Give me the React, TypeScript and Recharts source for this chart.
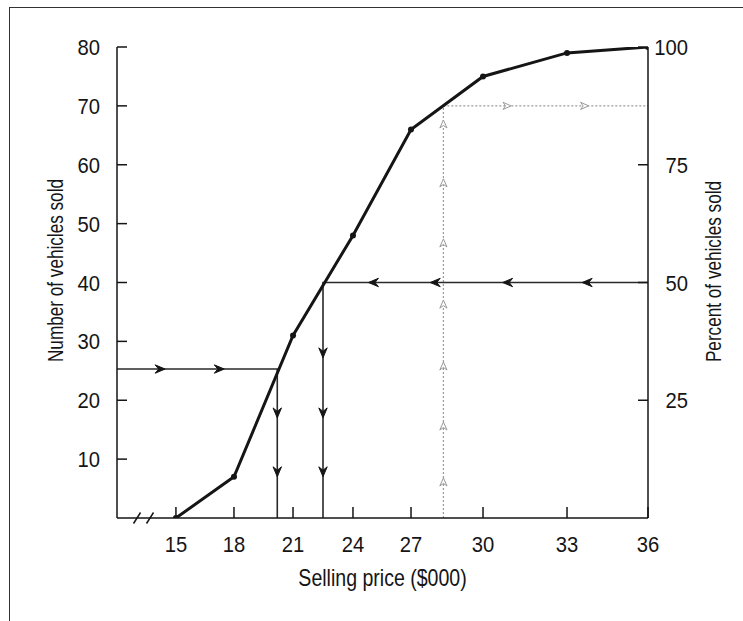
import { LineChart, Line, XAxis, YAxis, ReferenceDot } from 'recharts';

// selling price ($000) and cumulative number of vehicles sold
const prices = [15, 18, 21, 24, 27, 30, 33, 36];
const vehiclesSold = [0, 7, 31, 48, 66, 75, 79, 80];

const priceTicks = [15, 18, 21, 24, 27, 30, 33, 36];
const countTicks = [10, 20, 30, 40, 50, 60, 70, 80];
const percentTicks = [25, 50, 75, 100];

type GuidePoint = { price: number; n: number; arrow?: boolean };

// 25 vehicles -> about $20,200
const quartileGuide: GuidePoint[] = [
  { price: 12, n: 25.3 },
  { price: 14.45, n: 25.3, arrow: true },
  { price: 17.5, n: 25.3, arrow: true },
  { price: 20.2, n: 25.3 },
  { price: 20.2, n: 17, arrow: true },
  { price: 20.2, n: 7, arrow: true },
  { price: 20.2, n: 0 },
];

// 50% (40 vehicles) -> about $22,500
const medianGuide: GuidePoint[] = [
  { price: 36, n: 40 },
  { price: 33.56, n: 40, arrow: true },
  { price: 30.7, n: 40, arrow: true },
  { price: 27.8, n: 40, arrow: true },
  { price: 24.8, n: 40, arrow: true },
  { price: 22.5, n: 40 },
  { price: 22.5, n: 27.2, arrow: true },
  { price: 22.5, n: 17, arrow: true },
  { price: 22.5, n: 7, arrow: true },
  { price: 22.5, n: 0 },
];

// $28,350 -> 70 vehicles (87.5%)
const upperGuide: GuidePoint[] = [
  { price: 28.35, n: 0 },
  { price: 28.35, n: 6.8, arrow: true },
  { price: 28.35, n: 16.3, arrow: true },
  { price: 28.35, n: 26.5, arrow: true },
  { price: 28.35, n: 37, arrow: true },
  { price: 28.35, n: 47.4, arrow: true },
  { price: 28.35, n: 57.6, arrow: true },
  { price: 28.35, n: 67.6, arrow: true },
  { price: 28.35, n: 70 },
  { price: 31.0, n: 70, arrow: true },
  { price: 33.8, n: 70, arrow: true },
  { price: 36, n: 70 },
];

const curve = prices.map((price, i) => ({ price, n: vehiclesSold[i] }));

const INK = '#151515';
const GREY = '#9a9a9a';
const FONT = "'Liberation Sans', Arial, sans-serif";
const BREAK_AT = 13.35;

// the printed price axis is not evenly spaced; where each stop sits along it
const AXIS_STOPS = [12, 15, 18, 21, 24, 27, 30, 33, 36];
const AXIS_SHARE = [0, 0.111, 0.2203, 0.3315, 0.4444, 0.5537, 0.6893, 0.8475, 1];

function printedScale(): any {
  let dom: number[] = [12, 36];
  let rng: number[] = [0, 1];
  const s: any = (v: number) => {
    const last = AXIS_STOPS.length - 1;
    let i = 0;
    while (i < last - 1 && v > AXIS_STOPS[i + 1]) i++;
    const t = (v - AXIS_STOPS[i]) / (AXIS_STOPS[i + 1] - AXIS_STOPS[i]);
    const f = AXIS_SHARE[i] + t * (AXIS_SHARE[i + 1] - AXIS_SHARE[i]);
    return rng[0] + (rng[1] - rng[0]) * f;
  };
  s.domain = (d?: number[]) => {
    if (d === undefined) return dom;
    dom = d.slice();
    return s;
  };
  s.range = (r?: number[]) => {
    if (r === undefined) return rng;
    rng = r.slice();
    return s;
  };
  s.copy = () => printedScale().domain(dom).range(rng);
  s.ticks = () => priceTicks;
  return s;
}

const SOLID = 'M0,0 L-10,-4.2 L-6.5,0 L-10,4.2 Z';
const HOLLOW = 'M0,0 L-8,-3.6 L-5.5,0 L-8,3.6 Z';

function arrowDots(guide: GuidePoint[], hollow: boolean) {
  return (props: any) => {
    const { cx, cy, index } = props;
    const pt = guide[index];
    if (!pt || !pt.arrow || cx == null || cy == null) return <g key={`a${index}`} />;
    const prev = guide[index - 1];
    let angle = 0;
    if (pt.price !== prev.price) angle = pt.price > prev.price ? 0 : 180;
    else angle = pt.n > prev.n ? -90 : 90;
    return (
      <path
        key={`a${index}`}
        d={hollow ? HOLLOW : SOLID}
        transform={`translate(${cx},${cy}) rotate(${angle})`}
        fill={hollow ? '#fff' : INK}
        stroke={hollow ? GREY : INK}
        strokeWidth={1}
        strokeLinejoin="round"
      />
    );
  };
}

// condensed look: squeeze Liberation Sans horizontally
const Squeezed = ({ x, y, anchor, size, squeeze, turn = 0, children }: any) => (
  <text
    transform={`translate(${x},${y}) rotate(${turn}) scale(${squeeze},1)`}
    textAnchor={anchor}
    fontSize={size}
    fontFamily={FONT}
    fill={INK}
  >
    {children}
  </text>
);

const CountTick = ({ x, y, payload }: any) => {
  const ax = x + 17;
  return (
    <g>
      <line x1={ax} x2={ax + 10} y1={y} y2={y} stroke={INK} strokeWidth={1.5} />
      <Squeezed x={x} y={y + 8} anchor="end" size={22} squeeze={0.92}>{payload.value}</Squeezed>
    </g>
  );
};

const PercentTick = ({ x, y, payload }: any) => (
  <g>
    <line x1={x} x2={x - 10} y1={y} y2={y} stroke={INK} strokeWidth={1.5} />
    <Squeezed x={x + 40} y={y + 8} anchor="end" size={22} squeeze={0.92}>{payload.value}</Squeezed>
  </g>
);

const PriceTick = ({ x, y, payload }: any) => (
  <g>
    <line x1={x} x2={x} y1={y} y2={y - 11} stroke={INK} strokeWidth={1.5} />
    <Squeezed x={x} y={y + 34} anchor="middle" size={22} squeeze={0.92}>{payload.value}</Squeezed>
  </g>
);

const AxisTitle = ({ viewBox, text, shiftX = 0, shiftY = 0, turn = 0, size = 22, squeeze = 0.8 }: any) => {
  if (!viewBox) return null;
  const cx = viewBox.x + viewBox.width / 2 + shiftX;
  const cy = viewBox.y + viewBox.height / 2 + shiftY;
  return (
    <text
      transform={`translate(${cx},${cy}) rotate(${turn}) scale(${squeeze},1)`}
      textAnchor="middle"
      dy="0.36em"
      fontSize={size}
      fontFamily={FONT}
      fill={INK}
    >
      {text}
    </text>
  );
};

const AxisBreak = ({ cx, cy }: any) => (
  <g>
    {[-6.5, 6.5].map((o) => (
      <line key={o} x1={cx + o - 3.5} y1={cy + 5.5} x2={cx + o + 3.5} y2={cy - 5.5} stroke={INK} strokeWidth={1.5} />
    ))}
  </g>
);

export default function App() {
  return (
    <div style={{ position: 'absolute', left: 0, top: 0, width: 743, height: 621, overflow: 'hidden', background: '#fff' }}>
      <div
        style={{
          position: 'absolute', left: 9, top: 7, width: 900, height: 800,
          borderLeft: '1.5px solid #333', borderTop: '1.5px solid #333',
        }}
      />
      <div style={{ position: 'absolute', left: 0, top: 0 }}>
        <LineChart width={743} height={621} data={curve} margin={{ top: 47, right: 35, bottom: 63, left: 57 }}>
          <XAxis
            dataKey="price"
            type="number"
            domain={[12, 36]}
            allowDataOverflow
            scale={printedScale()}
            ticks={priceTicks}
            interval={0}
            height={40}
            tickSize={0}
            tickMargin={0}
            tickLine={false}
            tick={<PriceTick />}
            axisLine={{ stroke: INK, strokeWidth: 1.5 }}
            label={<AxisTitle text="Selling price ($000)" shiftY={40} size={23} squeeze={0.85} />}
          />
          <YAxis
            yAxisId="left"
            type="number"
            domain={[0, 80]}
            allowDataOverflow
            ticks={countTicks}
            interval={0}
            width={60}
            tickSize={0}
            tickMargin={17}
            tickLine={false}
            tick={<CountTick />}
            axisLine={{ stroke: INK, strokeWidth: 1.5 }}
            label={<AxisTitle text="Number of vehicles sold" turn={-90} shiftX={-32} shiftY={-12} size={22} squeeze={0.78} />}
          />
          <YAxis
            yAxisId="right"
            orientation="right"
            type="number"
            domain={[0, 100]}
            allowDataOverflow
            ticks={percentTicks}
            interval={0}
            width={60}
            tickSize={0}
            tickMargin={0}
            tickLine={false}
            tick={<PercentTick />}
            axisLine={{ stroke: INK, strokeWidth: 1.5 }}
            label={<AxisTitle text="Percent of vehicles sold" turn={-90} shiftX={35} shiftY={-11} size={22} squeeze={0.78} />}
          />
          <Line
            data={upperGuide}
            yAxisId="left"
            dataKey="n"
            type="linear"
            stroke={GREY}
            strokeWidth={1.2}
            strokeDasharray="2 2"
            dot={arrowDots(upperGuide, true)}
            activeDot={false}
            isAnimationActive={false}
          />
          <Line
            data={quartileGuide}
            yAxisId="left"
            dataKey="n"
            type="linear"
            stroke="#2a2a2a"
            strokeWidth={1.6}
            dot={arrowDots(quartileGuide, false)}
            activeDot={false}
            isAnimationActive={false}
          />
          <Line
            data={medianGuide}
            yAxisId="left"
            dataKey="n"
            type="linear"
            stroke="#2a2a2a"
            strokeWidth={1.6}
            dot={arrowDots(medianGuide, false)}
            activeDot={false}
            isAnimationActive={false}
          />
          <Line
            yAxisId="left"
            dataKey="n"
            type="linear"
            stroke={INK}
            strokeWidth={3}
            dot={{ r: 3, fill: INK, stroke: 'none' }}
            activeDot={false}
            isAnimationActive={false}
          />
          <ReferenceDot x={BREAK_AT} y={0} yAxisId="left" r={0} ifOverflow="visible" shape={<AxisBreak />} />
        </LineChart>
      </div>
    </div>
  );
}
